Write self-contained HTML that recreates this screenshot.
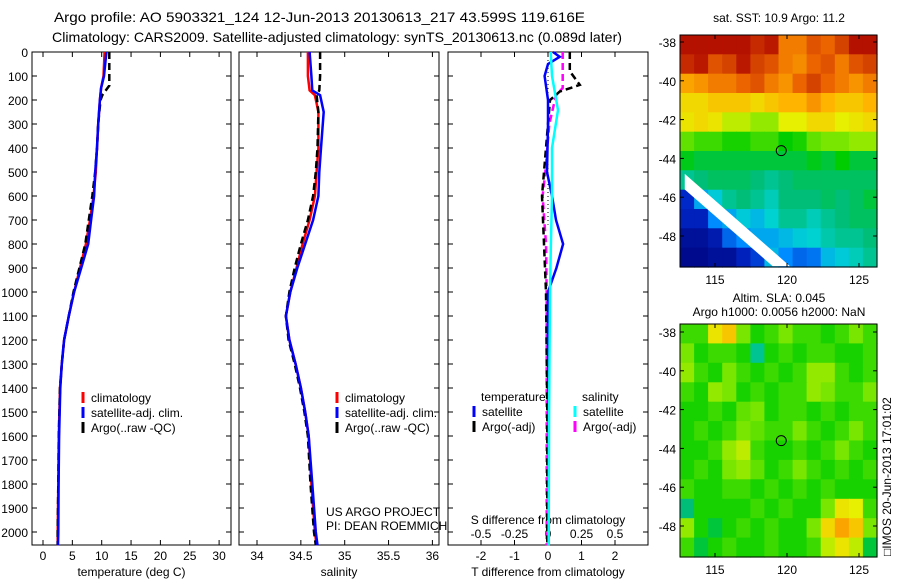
<!DOCTYPE html>
<html><head><meta charset="utf-8">
<style>
body{margin:0;background:#fff;overflow:hidden;}
svg{display:block;font-family:"Liberation Sans",sans-serif;}
text{font-size:12px;fill:#000;}
</style></head>
<body>
<svg id="fig" width="900" height="580" viewBox="0 0 900 580" xmlns="http://www.w3.org/2000/svg">
<text x="54" y="22" textLength="531" lengthAdjust="spacingAndGlyphs" style="font-size:14px">Argo profile: AO 5903321_124 12-Jun-2013 20130613_217 43.599S 119.616E</text>
<text x="52" y="42" textLength="570" lengthAdjust="spacingAndGlyphs" style="font-size:14px">Climatology: CARS2009. Satellite-adjusted climatology: synTS_20130613.nc (0.089d later)</text>
<g id="plots"></g>
<text x="326" y="516">US ARGO PROJECT</text>
<text x="326" y="530">PI: DEAN ROEMMICH</text>
<text transform="translate(891,556) rotate(-90)">□IMOS 20-Jun-2013 17:01:02</text>
</svg>
<script>
// ---- data ----
const depthTicks=[0,100,200,300,400,500,600,700,800,900,1000,1100,1200,1300,1400,1500,1600,1700,1800,1900,2000];
const tempTicks=[0,5,10,15,20,25,30];
const salTicks=[34,34.5,35,35.5,36];
const tdiffTicks=[-2,-1,0,1,2];
const sdiffTicks=[-0.5,-0.25,0,0.25,0.5];
const climDepth=[0,100,150,200,300,400,500,600,700,800,900,1000,1100,1200,1300,1400,1600,1800,2000,2055];
const climT=[10.5,10.3,9.9,9.7,9.4,9.2,9.0,8.6,8.0,7.3,6.3,5.3,4.4,3.6,3.2,2.9,2.7,2.6,2.5,2.5];
const satT=[10.8,10.4,9.9,9.7,9.4,9.2,8.9,8.7,8.2,7.7,6.5,5.3,4.4,3.6,3.2,2.95,2.75,2.65,2.6,2.55];
const argoDepth=[0,140,180,200,300,400,500,600,700,800,900,1000,1100,1200,1300,1400,1600,1800,2000,2055];
const argoT=[11.3,11.3,10.1,9.8,9.4,9.2,8.9,8.4,7.8,7.2,6.2,5.2,4.4,3.6,3.2,2.9,2.7,2.6,2.5,2.5];
const salDepth=[0,100,160,180,250,400,500,600,700,800,900,1000,1100,1200,1300,1400,1500,1600,1800,2000,2055];
const climS=[34.58,34.58,34.60,34.66,34.70,34.70,34.68,34.66,34.60,34.52,34.45,34.38,34.33,34.37,34.44,34.50,34.55,34.59,34.62,34.66,34.68];
const satS=[34.60,34.62,34.63,34.72,34.76,34.73,34.71,34.70,34.64,34.55,34.46,34.38,34.33,34.37,34.44,34.50,34.55,34.59,34.63,34.67,34.69];
const argoS=[34.72,34.72,34.71,34.68,34.70,34.69,34.67,34.64,34.58,34.50,34.43,34.37,34.33,34.36,34.43,34.49,34.54,34.58,34.61,34.65,34.67];
const dDepth=[0,20,50,100,150,200,300,500,600,700,800,900,1000,1200,1500,2000,2055];
const satTdiff=[0.15,0.35,0.0,-0.1,-0.05,0.0,0.0,-0.03,0.12,0.24,0.45,0.25,0.0,0.0,0.02,0.02,0.02];
const argoDDepth=[0,80,137,165,200,300,500,600,700,800,1000,1500,2000,2055];
const argoTdiff=[0.65,0.65,0.95,0.35,0.06,0.0,-0.12,-0.18,-0.15,-0.12,-0.06,-0.02,-0.02,-0.02];
const sDDepth=[0,100,242,400,600,800,1000,1500,2000,2055];
const satSdiff=[0.02,0.03,0.075,0.03,0.03,0.022,0.015,0.008,0.005,0.005];
const argoSDepth=[0,100,150,180,300,500,600,800,1000,1500,2000,2055];
const argoSdiff=[0.11,0.11,0.11,0.06,0.01,-0.02,-0.04,-0.015,-0.01,-0.01,-0.01,-0.01];
const latTicks=[-38,-40,-42,-44,-46,-48];
const lonTicks=[115,120,125];
const sstGrid=[
[0.98,0.98,0.98,0.98,0.98,0.95,0.97,0.85,0.85,0.9,0.88,0.92,0.98,0.98],
[0.95,0.97,0.9,0.92,0.97,0.92,0.9,0.85,0.83,0.88,0.9,0.85,0.9,0.92],
[0.8,0.82,0.85,0.85,0.88,0.9,0.85,0.82,0.88,0.92,0.88,0.85,0.82,0.85],
[0.72,0.72,0.75,0.75,0.75,0.72,0.75,0.78,0.78,0.82,0.78,0.75,0.75,0.78],
[0.7,0.72,0.7,0.65,0.65,0.62,0.62,0.68,0.68,0.72,0.72,0.68,0.7,0.72],
[0.58,0.55,0.55,0.52,0.52,0.55,0.55,0.5,0.52,0.58,0.6,0.6,0.62,0.62],
[0.48,0.45,0.45,0.45,0.45,0.45,0.45,0.45,0.45,0.48,0.45,0.5,0.45,0.45],
[0.38,0.4,0.42,0.42,0.42,0.4,0.38,0.4,0.42,0.42,0.42,0.42,0.42,0.42],
[0.12,0.28,0.32,0.38,0.4,0.38,0.35,0.4,0.4,0.4,0.42,0.4,0.42,0.45],
[0.1,0.1,0.25,0.28,0.32,0.3,0.33,0.38,0.38,0.35,0.38,0.4,0.42,0.42],
[0.05,0.05,0.08,0.2,0.25,0.28,0.28,0.3,0.32,0.33,0.36,0.38,0.38,0.4],
[0.03,0.03,0.05,0.05,0.1,0.15,0.3,0.25,0.2,0.22,0.3,0.32,0.35,0.38]];
const slaGrid=[
[0.55,0.55,0.7,0.75,0.6,0.52,0.55,0.6,0.55,0.55,0.52,0.55,0.6,0.55],
[0.6,0.52,0.55,0.55,0.52,0.38,0.52,0.55,0.52,0.55,0.55,0.52,0.52,0.55],
[0.62,0.55,0.52,0.6,0.55,0.52,0.55,0.52,0.55,0.62,0.62,0.55,0.52,0.55],
[0.55,0.52,0.62,0.6,0.52,0.55,0.52,0.55,0.55,0.62,0.6,0.55,0.55,0.6],
[0.52,0.52,0.55,0.52,0.58,0.6,0.52,0.55,0.55,0.52,0.55,0.52,0.55,0.55],
[0.52,0.55,0.52,0.55,0.6,0.58,0.55,0.55,0.6,0.55,0.52,0.55,0.6,0.55],
[0.52,0.52,0.55,0.62,0.65,0.55,0.52,0.52,0.55,0.52,0.55,0.6,0.55,0.52],
[0.52,0.55,0.52,0.6,0.62,0.58,0.52,0.55,0.6,0.55,0.52,0.55,0.52,0.55],
[0.55,0.52,0.52,0.55,0.55,0.52,0.55,0.52,0.55,0.52,0.55,0.52,0.52,0.52],
[0.4,0.52,0.52,0.52,0.52,0.55,0.52,0.55,0.52,0.52,0.6,0.7,0.68,0.55],
[0.62,0.52,0.45,0.52,0.55,0.52,0.55,0.52,0.52,0.6,0.72,0.8,0.75,0.6],
[0.55,0.45,0.52,0.55,0.52,0.52,0.55,0.52,0.52,0.55,0.65,0.7,0.65,0.45]];

// ---- helpers ----
const NS='http://www.w3.org/2000/svg';
const root=document.getElementById('plots');
function mk(tag,attrs,parent){const e=document.createElementNS(NS,tag);for(const k in attrs)e.setAttribute(k,attrs[k]);(parent||root).appendChild(e);return e;}
function txt(x,y,s,anchor,parent){const t=mk('text',{x:x,y:y,'text-anchor':anchor||'start'},parent);t.textContent=s;return t;}
const yTop=52,yScale=0.24,yBot=545;
const yD=d=>yTop+d*yScale;
const cmapStops=[[0,[0,0,120]],[0.12,[0,40,200]],[0.25,[0,140,255]],[0.33,[0,210,210]],[0.4,[0,190,120]],[0.5,[0,205,0]],[0.6,[120,230,0]],[0.68,[230,240,0]],[0.78,[255,180,0]],[0.88,[235,100,0]],[1,[170,0,0]]];
function cmap(v){v=Math.max(0,Math.min(1,v));for(let i=1;i<cmapStops.length;i++){const a=cmapStops[i-1],b=cmapStops[i];if(v<=b[0]){const t=(v-a[0])/(b[0]-a[0]);const c=a[1].map((x,k)=>Math.round(x+(b[1][k]-x)*t));return 'rgb('+c.join(',')+')';}}return 'rgb(170,0,0)';}

function panel(name,x0,x1,xf,ticks,fmt,label,withDepthLabels){
  const g=mk('g',{});
  
  
  const f=mk('rect',{x:x0,y:yTop,width:x1-x0,height:yBot-yTop,fill:'none',stroke:'#000','stroke-width':1},g);
  
  
  depthTicks.forEach(d=>{const y=yD(d);mk('line',{x1:x0,y1:y,x2:x0+5,y2:y,stroke:'#000'},g);mk('line',{x1:x1,y1:y,x2:x1-5,y2:y,stroke:'#000'},g);
    if(withDepthLabels){const t=txt(x0-4,y+5,String(d),'end',g);}});
  ticks.forEach(v=>{const x=xf(v);mk('line',{x1:x,y1:yBot,x2:x,y2:yBot-5,stroke:'#000'},g);mk('line',{x1:x,y1:yTop,x2:x,y2:yTop+5,stroke:'#000'},g);
    if(fmt){const t=txt(x,yBot+15,fmt(v),'middle',g);}});
  const l=txt((x0+x1)/2,576,label,'middle',g);
  
  
  return g;
}
function line(g,xs,ds,xf,color,width,dash,name){
  const pts=xs.map((v,i)=>xf(v).toFixed(1)+','+yD(ds[i]).toFixed(1)).join(' ');
  const p=mk('polyline',{points:pts,fill:'none',stroke:color,'stroke-width':width,'stroke-dasharray':dash||'none'},g);
  
  
}
function legend(g,x,y,items){
  items.forEach((it,i)=>{const yy=y+i*15;mk('line',{x1:x,y1:yy-10,x2:x,y2:yy+1,stroke:it[1],'stroke-width':3},g);
    const t=txt(x+8,yy,it[0],'start',g);});
}

// panel 1 temperature
const xT=v=>43+v*5.87;
const p1=panel('temperature-panel',32,231,xT,tempTicks,v=>String(v),'temperature (deg C)',true);
line(p1,climT,climDepth,xT,'#f00',2.5,null,'temp-climatology-line');
line(p1,argoT,argoDepth,xT,'#000',2.5,'7,4','temp-argo-line');
line(p1,satT,climDepth,xT,'#00f',2.5,null,'temp-satellite-line');
legend(p1,83,402,[['climatology','#f00'],['satellite-adj. clim.','#00f'],['Argo(..raw -QC)','#000']]);

// panel 2 salinity
const xS=v=>257+(v-34)*87.7;
const p2=panel('salinity-panel',239,439,xS,salTicks,v=>String(v),'salinity',false);
line(p2,climS,salDepth,xS,'#f00',2.5,null,'sal-climatology-line');
line(p2,argoS,salDepth,xS,'#000',2.5,'7,4','sal-argo-line');
line(p2,satS,salDepth,xS,'#00f',2.5,null,'sal-satellite-line');
legend(p2,337,402,[['climatology','#f00'],['satellite-adj. clim.','#00f'],['Argo(..raw -QC)','#000']]);

// panel 3 differences
const xTd=v=>548+v*33.5, xSd=v=>548+v*134;
const p3=panel('difference-panel',448,648,xTd,tdiffTicks,v=>String(v),'T difference from climatology',false);
sdiffTicks.forEach(v=>{const t=txt(xSd(v),538,String(v),'middle',p3);});
const sTitle=txt(548,524,'S difference from climatology','middle',p3);


mk('line',{x1:548,y1:yTop,x2:548,y2:yD(720),stroke:'#000','stroke-dasharray':'1,3'},p3);
line(p3,argoSdiff,argoSDepth,xSd,'#f0f',2.5,'7,4','sal-argo-diff-line');
line(p3,argoTdiff,argoDDepth,xTd,'#000',2.5,'7,4','temp-argo-diff-line');
line(p3,satTdiff,dDepth,xTd,'#00f',2.5,null,'temp-satellite-diff-line');
line(p3,satSdiff,sDDepth,xSd,'#0ff',2.5,null,'sal-satellite-diff-line');
const lt=txt(481,401,'temperature','start',p3);
const ls=txt(582,401,'salinity','start',p3);
legend(p3,474,416,[['satellite','#00f'],['Argo(-adj)','#000']]);
legend(p3,575,416,[['satellite','#0ff'],['Argo(-adj)','#f0f']]);

// maps
function map(name,x0,y0,x1,y1,yRef,grid,titles,withStripe){
  const g=mk('g',{});
  
  
  const lx=v=>715+(v-115)*14.4;
  const ly=v=>yRef-(v+38)*19.4;
  const cw=(x1-x0)/grid[0].length,ch=(y1-y0)/grid.length;
  grid.forEach((row,r)=>row.forEach((v,c)=>{const cell=mk('rect',{x:(x0+c*cw).toFixed(1),y:(y0+r*ch).toFixed(1),width:(cw+0.6).toFixed(1),height:(ch+0.6).toFixed(1),fill:cmap(v)},g);
    
    }));
  if(withStripe){const s=mk('polygon',{points:[lx(112.9)+','+ly(-44.8),lx(112.9)+','+ly(-45.6),lx(119.0)+','+ly(-49.55),lx(120.2)+','+ly(-49.55)].join(' '),fill:'#fff'},g);
    
    }
  mk('rect',{x:x0,y:y0,width:x1-x0,height:y1-y0,fill:'none',stroke:'#000'},g);
  latTicks.forEach(v=>{const y=ly(v);mk('line',{x1:x0,y1:y,x2:x0+4,y2:y,stroke:'#000'},g);mk('line',{x1:x1,y1:y,x2:x1-4,y2:y,stroke:'#000'},g);
    const t=txt(x0-4,y+5,String(v),'end',g);});
  lonTicks.forEach(v=>{const x=lx(v);mk('line',{x1:x,y1:y1,x2:x,y2:y1-4,stroke:'#000'},g);mk('line',{x1:x,y1:y0,x2:x,y2:y0+4,stroke:'#000'},g);
    const t=txt(x,y1+17,String(v),'middle',g);});
  const c=mk('circle',{cx:lx(119.6),cy:ly(-43.6),r:5,fill:'none',stroke:'#000'},g);
  
  
  titles.forEach(s=>{const t=txt(779,s[1],s[0],'middle',g);});
}
map('sst-map',680,35,877,267,42,sstGrid,[['sat. SST: 10.9 Argo: 11.2',22]],true);
map('sla-map',680,324,877,557,332,slaGrid,[['Altim. SLA: 0.045',302],['Argo h1000: 0.0056 h2000: NaN',316]],false);
</script>
</body></html>
